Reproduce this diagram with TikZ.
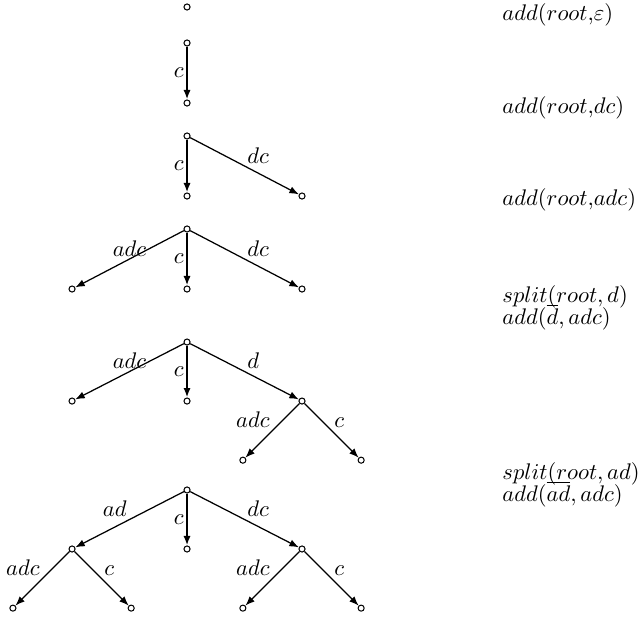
\documentclass[tikz,border=0pt]{standalone}
\usepackage{amsmath, amssymb}
\usetikzlibrary{positioning, arrows.meta}
\tikzset{tree node/.style={circle,draw,fill=white,minimum size=2.7pt,inner sep=0pt,line width=0.45pt},
  trunk/.style={line width=1pt,-{Latex[length=4.2pt,width=3.2pt]}},
  branch/.style={line width=0.55pt,-{Latex[length=4.2pt,width=3.2pt]}},
  lbl/.style={inner sep=1pt},
  op/.style={anchor=west,inner sep=0pt,align=left}}

\begin{document}
\begin{tikzpicture}[on grid]
            \useasboundingbox (0,0) rectangle (9.958,-9.632);
            % step 0
            \node[tree node] (A) at (2.910,-0.109) {};
            % step 1
            \node[tree node] (B) at (2.910,-0.669) {};
            \node[tree node] (Bc) [below = 0.934cm of B] {};
            % step 2
            \node[tree node] (C) at (2.910,-2.116) {};
            \node[tree node] (Cc) [below = 0.934cm of C] {};
            \node[tree node] (Cr) [below right = 0.934cm and 1.789cm of C] {};
            % step 3
            \node[tree node] (D) at (2.910,-3.563) {};
            \node[tree node] (Dl) [below left = 0.934cm and 1.789cm of D] {};
            \node[tree node] (Dc) [below = 0.934cm of D] {};
            \node[tree node] (Dr) [below right = 0.934cm and 1.789cm of D] {};
            % step 4
            \node[tree node] (E) at (2.910,-5.322) {};
            \node[tree node] (El) [below left = 0.918cm and 1.789cm of E] {};
            \node[tree node] (Ec) [below = 0.918cm of E] {};
            \node[tree node] (Er) [below right = 0.918cm and 1.789cm of E] {};
            \node[tree node] (Erl) [below left = 0.92cm and 0.92cm of Er] {};
            \node[tree node] (Err) [below right = 0.92cm and 0.92cm of Er] {};
            % step 5
            \node[tree node] (F) at (2.910,-7.624) {};
            \node[tree node] (Fl) [below left = 0.918cm and 1.789cm of F] {};
            \node[tree node] (Fc) [below = 0.918cm of F] {};
            \node[tree node] (Fr) [below right = 0.918cm and 1.789cm of F] {};
            \node[tree node] (Fll) [below left = 0.92cm and 0.92cm of Fl] {};
            \node[tree node] (Flr) [below right = 0.92cm and 0.92cm of Fl] {};
            \node[tree node] (Frl) [below left = 0.92cm and 0.92cm of Fr] {};
            \node[tree node] (Frr) [below right = 0.92cm and 0.92cm of Fr] {};

            % operations
            \node[op] (opA) at (7.811,-0.233) {$add(root{,}\varepsilon)$};
            \node[op] (opB) at (7.811,-1.680) {$add(root{,}dc)$};
            \node[op] (opC) at (7.811,-3.112) {$add(root{,}adc)$};
            \node[op] (opD) at (7.811,-4.785) {$split(root,d)$\\[-2.2pt]$add(\overline{d},adc)$};
            \node[op] (opE) at (7.811,-7.539) {$split(root,ad)$\\[-2.2pt]$add(\overline{ad},adc)$};

            \path
            (B) edge[trunk] node[left,lbl] {$c$} (Bc)
            (C) edge[trunk] node[left,lbl] {$c$} (Cc)
            (C) edge[branch] node[above right,lbl] {$dc$} (Cr)
            (D) edge[branch] node[above,lbl] {$adc$} (Dl)
            (D) edge[trunk] node[left,lbl] {$c$} (Dc)
            (D) edge[branch] node[above right,lbl] {$dc$} (Dr)
            (E) edge[branch] node[above,lbl] {$adc$} (El)
            (E) edge[trunk] node[left,lbl] {$c$} (Ec)
            (E) edge[branch] node[above right,lbl] {$d$} (Er)
            (Er) edge[branch] node[above left,lbl] {$adc$} (Erl)
            (Er) edge[branch] node[above right,lbl] {$c$} (Err)
            (F) edge[branch] node[above left,lbl] {$ad$} (Fl)
            (F) edge[trunk] node[left,lbl] {$c$} (Fc)
            (F) edge[branch] node[above right,lbl] {$dc$} (Fr)
            (Fl) edge[branch] node[above left,lbl] {$adc$} (Fll)
            (Fl) edge[branch] node[above right,lbl] {$c$} (Flr)
            (Fr) edge[branch] node[above left,lbl] {$adc$} (Frl)
            (Fr) edge[branch] node[above right,lbl] {$c$} (Frr);
        \end{tikzpicture}
\end{document}
